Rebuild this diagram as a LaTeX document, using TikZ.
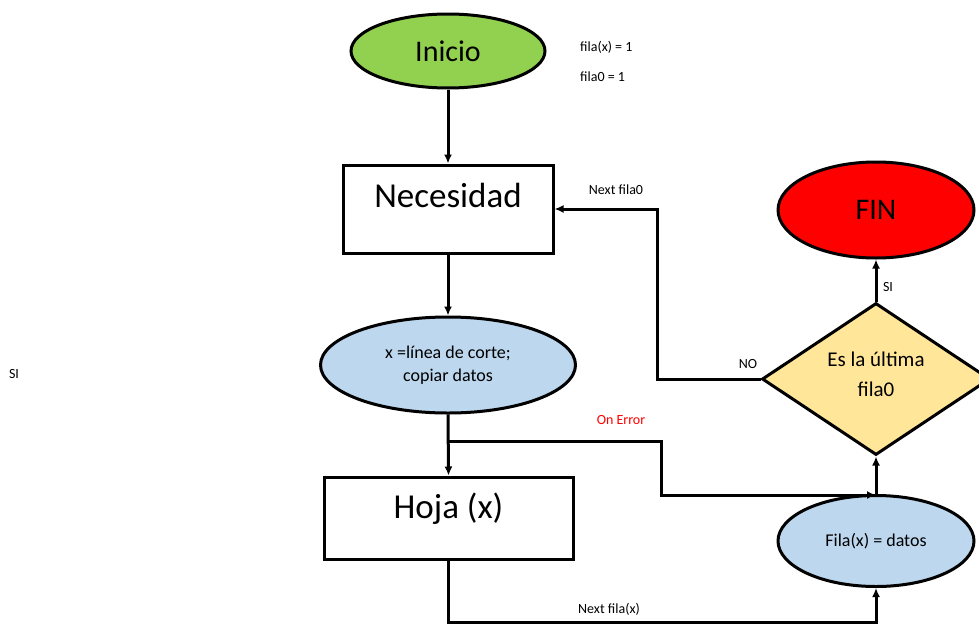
\documentclass[tikz,border=0pt]{standalone}
\usepackage{fontspec}
\setmainfont{Carlito}
\usetikzlibrary{shapes.geometric,arrows.meta}
\definecolor{startgreen}{HTML}{92D050}
\definecolor{procblue}{HTML}{BDD7EE}
\definecolor{decyellow}{HTML}{FFE699}
\definecolor{endred}{HTML}{FF0000}
\tikzset{
  base/.style={draw=black, line width=3pt},
  terminal/.style={base, ellipse, inner sep=0pt, font=\fontsize{30}{30}\selectfont},
  procbox/.style={base, rectangle, fill=white, inner sep=0pt, font=\fontsize{35}{35}\selectfont},
  action/.style={base, ellipse, fill=procblue, inner sep=0pt, align=center, font=\fontsize{18}{23}\selectfont},
  decision/.style={base, diamond, fill=decyellow, inner sep=0pt, align=center, font=\fontsize{21}{30}\selectfont},
  flow/.style={line width=3pt, -{Latex[length=9pt,width=8pt]}},
  note/.style={font=\fontsize{14}{14}\selectfont, inner sep=0pt},
}
\begin{document}
\begin{tikzpicture}[x=1pt,y=-1pt]
\useasboundingbox (0,0) rectangle (979,624);
\clip (0,0) rectangle (979,624);

% main column
\node[terminal, fill=startgreen, minimum width=194pt, minimum height=74pt] (inicio) at (448,51) {Inicio};
\node[procbox, minimum width=210pt, minimum height=88pt, text height=25pt, text depth=28pt] (necesidad) at (448,209) {Necesidad};
\node[action, minimum width=255pt, minimum height=96pt] (corte) at (448,365) {x =línea de corte;\\copiar datos};
\node[procbox, minimum width=249pt, minimum height=82pt, text height=25pt, text depth=24pt] (hoja) at (448.5,518) {Hoja (x)};

% right column
\node[terminal, fill=endred, minimum width=196pt, minimum height=96pt] (fin) at (876,210) {FIN};
\node[decision, minimum width=228pt, minimum height=152pt, text depth=10pt] (ultima) at (876,379) {Es la última\\fila0};
\node[action, minimum width=196pt, minimum height=91pt] (filax) at (876,541) {Fila(x) = datos};

% loose labels
\node[note, anchor=west] (fx) at (580,47) {fila(x) = 1};
\node[note, anchor=west] (f0) at (580,77) {fila0 = 1};
\node[note] (lnext0) at (616,190) {Next fila0};
\node[note] (lno) at (748,364) {NO};
\node[note] (lsi) at (888,287) {SI};
\node[note, text=endred] (lerr) at (621,420) {On Error};
\node[note] (lnextx) at (609,609) {Next fila(x)};
\node[note] (lsileft) at (14,374) {SI};

% connectors
\coordinate (split) at (448,441);
\coordinate (errjoin) at (876,495);
\coordinate (bottom) at (448.5,622);

\draw[flow] (inicio.south) -- (necesidad.north);
\draw[flow] (necesidad.south) -- (corte.north);
\draw[flow] (corte.south) -- (hoja.north);
\draw[flow] (split) -- (661,441) -- (661,495) -- (errjoin);
\draw[flow] (hoja.south) -- (bottom) -| (filax.south);
\draw[flow] (filax.north) -- (ultima.south);
\draw[flow] (ultima.north) -- (fin.south);
\draw[flow] (ultima.west) -- (657,379) |- (necesidad.east);
\end{tikzpicture}
\end{document}
